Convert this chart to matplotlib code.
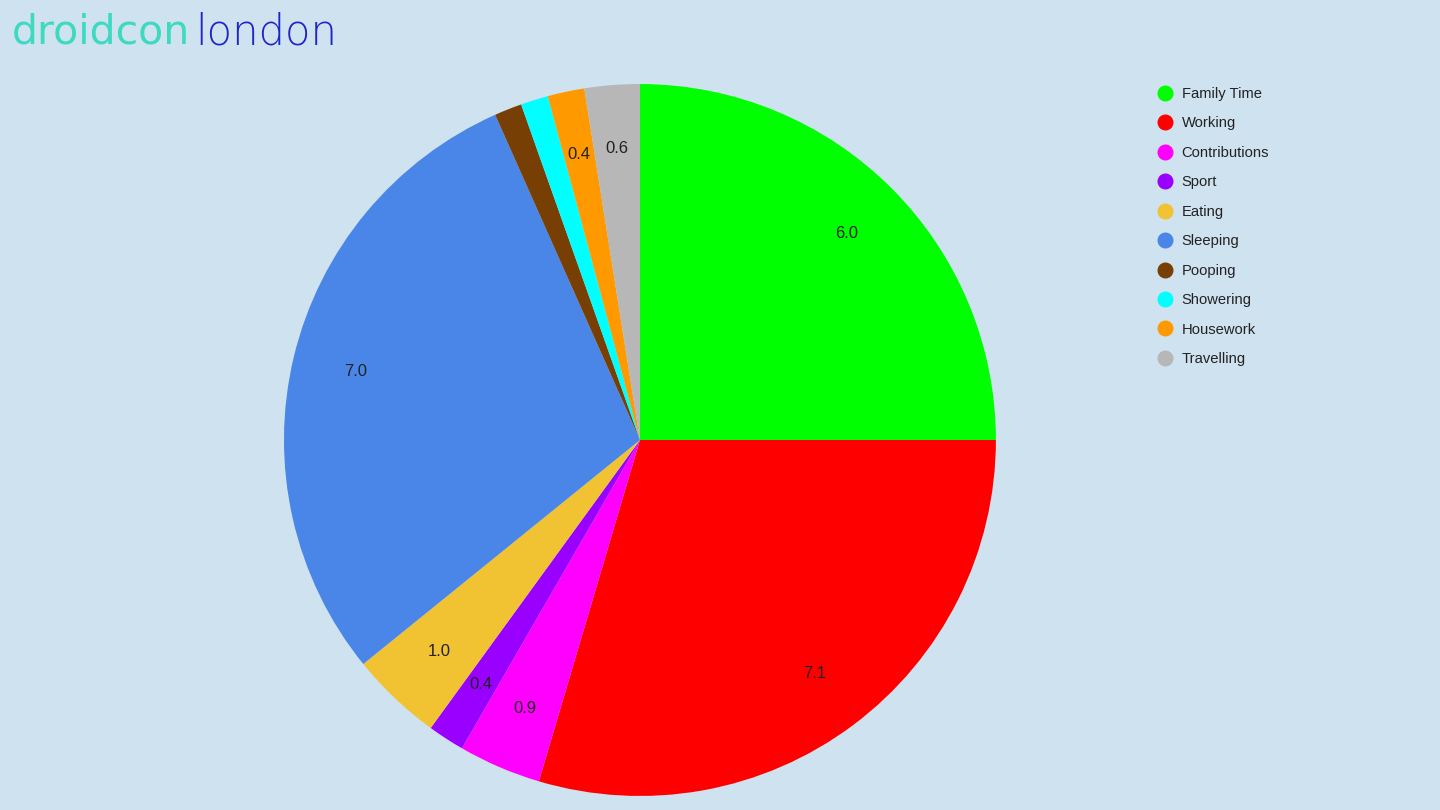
import matplotlib.pyplot as plt
from matplotlib.lines import Line2D

# hours per day
activities = ['Family Time', 'Working', 'Contributions', 'Sport', 'Eating',
              'Sleeping', 'Pooping', 'Showering', 'Housework', 'Travelling']
hours = [6.0, 7.1, 0.9, 0.4, 1.0, 7.0, 0.3, 0.3, 0.4, 0.6]
colors = ['#00ff00', '#ff0000', '#ff00ff', '#9900ff', '#f1c232',
          '#4a86e8', '#783f04', '#00ffff', '#ff9900', '#b7b7b7']

bg = '#cfe2f0'
total = sum(hours)


def label_fmt(pct):
    v = pct * total / 100
    return f'{v:.1f}' if v >= 0.35 else ''


fig = plt.figure(figsize=(14.4, 8.1), dpi=100, facecolor=bg)
ax = fig.add_axes([0.1972, 0.0173, 0.4944, 0.879])
ax.set_facecolor(bg)

wedges, texts, autotexts = ax.pie(
    hours, colors=colors, startangle=90, counterclock=False,
    autopct=label_fmt, pctdistance=0.82,
    textprops={'fontsize': 12, 'color': '#222222', 'family': 'Liberation Sans'})
ax.set_xlim(-1, 1)
ax.set_ylim(-1, 1)
ax.set_aspect('equal')

# legend with round markers
handles = [Line2D([0], [0], marker='o', linestyle='', markersize=10.5,
                  markerfacecolor=c, markeredgecolor=c) for c in colors]
leg = fig.legend(handles, activities, loc='upper left',
                 bbox_to_anchor=(0.7925, 0.909), frameon=False,
                 prop={'family': 'Liberation Sans', 'size': 10.6},
                 labelspacing=1.05, handletextpad=0.35, handlelength=1.5)
for t in leg.get_texts():
    t.set_color('#222222')

# droidcon london logo as text
fig.text(0.008, 0.960, 'droidcon', color='#3dd9c1', fontsize=29.5,
         family='DejaVu Sans', fontweight='normal', va='center', ha='left')
fig.text(0.1354, 0.960, 'london', color='#1f26c9', fontsize=30,
         family='DejaVu Sans', fontweight='light', va='center', ha='left')

fig.savefig('out.png', dpi=100, facecolor=bg)
